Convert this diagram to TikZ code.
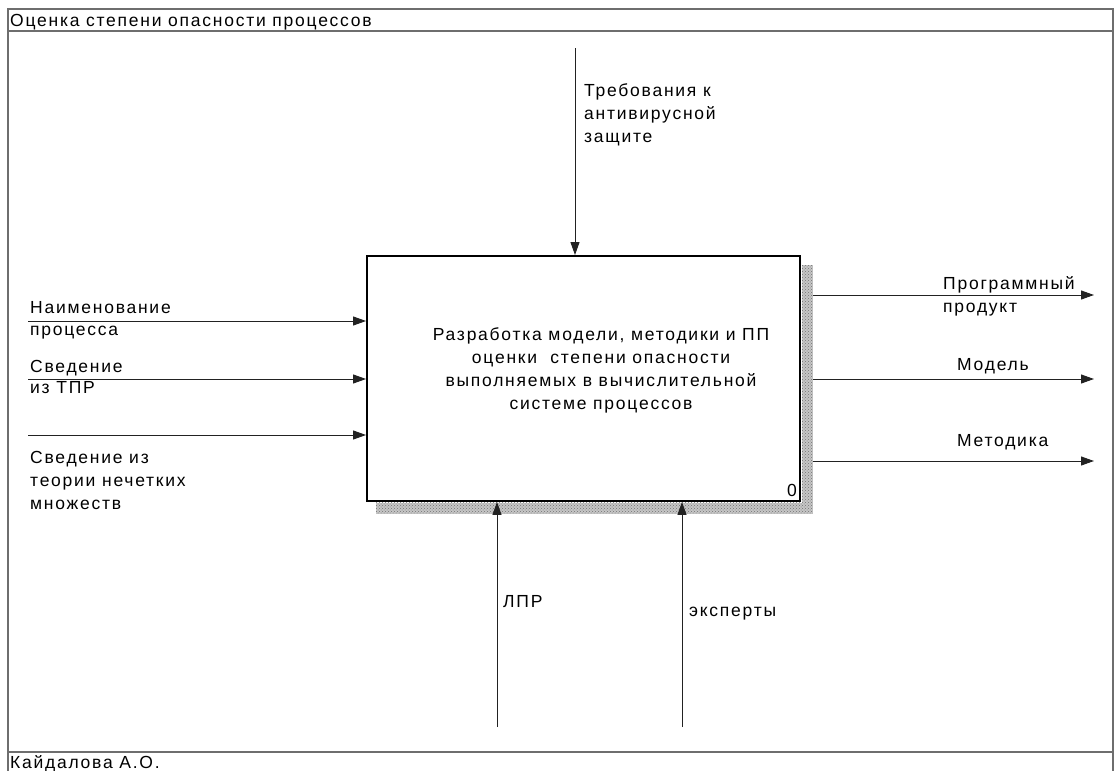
\documentclass[tikz,border=0pt]{standalone}
\usepackage{fontspec}
\setmainfont{Liberation Sans}[LetterSpace=10]
\usetikzlibrary{arrows.meta,positioning,patterns,calc}
\definecolor{IdefFrame}{HTML}{6E6E6E}
\definecolor{IdefLine}{HTML}{222222}

\begin{document}
\begin{tikzpicture}[
    x=1pt,y=-1pt,
    font=\fontsize{17.5}{22.8}\selectfont,
    frame/.style={draw=IdefFrame,line width=1.6pt},
    func/.style={draw=black,line width=1.9pt,minimum width=433pt,minimum height=245pt,inner sep=0pt},
    arr/.style={-{Triangle[length=13pt,width=9pt]},line width=1pt,IdefLine},
    lbl/.style={align=left,inner sep=0pt,anchor=base west},
    shade/.style={fill=gray!45,postaction={pattern=crosshatch dots,pattern color=black!55}}
  ]
  \useasboundingbox (0,0) rectangle (1114,771);
  % frame
  \draw[frame] (8,771) -- (8,9) -- (1113,9) -- (1113,771);
  \draw[frame] (8,31) -- (1113,31);
  \draw[frame] (8,752) -- (1113,752);
  \node[lbl] (title) at (10,26) {Оценка степени опасности процессов};
  \node[lbl] (author) at (10,768) {Кайдалова А.О.};

  % function block with shadow
  \node[func] (proc) at (583.5,378.5) {};
  \path[shade] ($(proc.north east)+(1,10)$) rectangle ($(proc.south east)+(12,12)$);
  \path[shade] ($(proc.south west)+(10,1)$) rectangle ($(proc.south east)+(1,12)$);
  \node[align=center,inner sep=0pt,anchor=base] (ptext) at (601,409) {Разработка модели, методики и ПП\\оценки\ \ степени опасности\\выполняемых в вычислительной\\системе процессов};
  \node[inner sep=0pt,anchor=base east] (num) at ($(proc.south east)+(-4,-5)$) {0};
  \coordinate (shR) at ($(proc.east)+(12,0)$);

  % control
  \coordinate (ctl) at (575,48);
  \draw[arr] (ctl) -- (ctl |- proc.north);
  \node[lbl] (ctltxt) at (584,142) {Требования к\\антивирусной\\защите};

  % inputs
  \coordinate (in1) at (28,321);
  \coordinate (in2) at (28,379);
  \coordinate (in3) at (28,435);
  \draw[arr] (in1) -- (in1 -| proc.west);
  \draw[arr] (in2) -- (in2 -| proc.west);
  \draw[arr] (in3) -- (in3 -| proc.west);
  \node[lbl] (in1a) at (30,313) {Наименование};
  \node[lbl] (in1b) at (30,335) {процесса};
  \node[lbl] (in2a) at (30,372) {Сведение};
  \node[lbl] (in2b) at (30,393) {из ТПР};
  \node[lbl] (in3txt) at (30,509) {Сведение из\\теории нечетких\\множеств};

  % outputs
  \coordinate (out1) at (1094,295);
  \coordinate (out2) at (1094,379);
  \coordinate (out3) at (1094,461);
  \draw[arr] (shR |- out1) -- (out1);
  \draw[arr] (shR |- out2) -- (out2);
  \draw[arr] (shR |- out3) -- (out3);
  \node[lbl] (out1txt) at (943,312) {Программный\\продукт};
  \node[lbl] (out2txt) at (957,370) {Модель};
  \node[lbl] (out3txt) at (957,446) {Методика};

  % mechanisms
  \coordinate (mech1) at (497,727);
  \coordinate (mech2) at (682,727);
  \draw[arr] (mech1) -- (mech1 |- proc.south);
  \draw[arr] (mech2) -- (mech2 |- proc.south);
  \node[lbl] (mech1txt) at (503,607) {ЛПР};
  \node[lbl] (mech2txt) at (689,616) {эксперты};
\end{tikzpicture}
\end{document}
